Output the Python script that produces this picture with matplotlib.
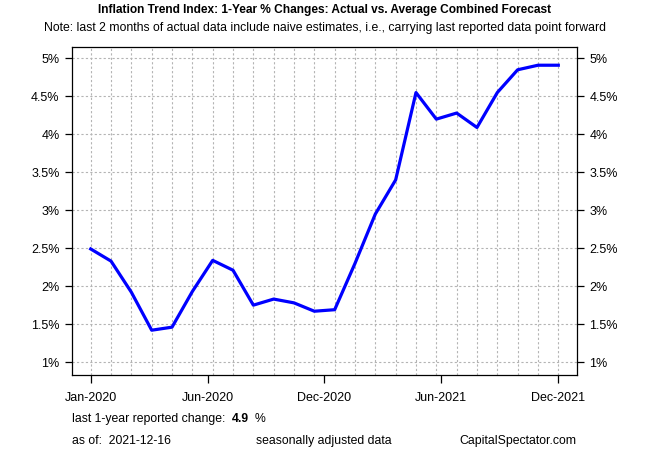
import numpy as np
import matplotlib
matplotlib.use("Agg")
import matplotlib.pyplot as plt

plt.rcParams['font.family'] = ['Liberation Sans', 'DejaVu Sans']

# --- donnees ---
months = ["Jan-2020", "Feb-2020", "Mar-2020", "Apr-2020", "May-2020", "Jun-2020",
          "Jul-2020", "Aug-2020", "Sep-2020", "Oct-2020", "Nov-2020", "Dec-2020",
          "Jan-2021", "Feb-2021", "Mar-2021", "Apr-2021", "May-2021", "Jun-2021",
          "Jul-2021", "Aug-2021", "Sep-2021", "Oct-2021", "Nov-2021", "Dec-2021"]
inflation = [2.49, 2.33, 1.92, 1.42, 1.46, 1.93, 2.34, 2.21, 1.75, 1.83, 1.78, 1.67,
             1.69, 2.30, 2.95, 3.40, 4.55, 4.20, 4.28, 4.09, 4.55, 4.85, 4.91, 4.91]
xtick_labels = ["Jan-2020", "Jun-2020", "Dec-2020", "Jun-2021", "Dec-2021"]
yticks = [1, 1.5, 2, 2.5, 3, 3.5, 4, 4.5, 5]
ytick_labels = ["1%", "1.5%", "2%", "2.5%", "3%", "3.5%", "4%", "4.5%", "5%"]
last_change = "4.9"
as_of = "2021-12-16"

x = np.arange(len(inflation))
n = len(x)

fig = plt.figure(figsize=(6.5, 4.5), dpi=100)
ax = fig.add_axes([72/650, 1 - 375/450, 505/650, 328/450])

# grille pointillee
for xi in x:
    ax.axvline(xi, color="#b4b4b4", lw=0.8, ls=(0, (2, 2)), zorder=0)
for yv in yticks:
    ax.axhline(yv, color="#b4b4b4", lw=0.8, ls=(0, (2, 2)), zorder=0)

ax.plot(x, inflation, color="#0000ff", lw=2.3, solid_joinstyle="round", zorder=3)

ax.set_xlim(-0.04 * (n - 1), (n - 1) * 1.04)
ax.set_ylim(0.83, 5.15)

ax.set_xticks(np.linspace(0, n - 1, len(xtick_labels)))
ax.set_xticklabels(xtick_labels, fontsize=9)
ax.set_yticks(yticks)
ax.set_yticklabels(ytick_labels, fontsize=9)
ax.tick_params(axis="x", length=5.5, width=0.9, pad=7)
ax.tick_params(axis="y", length=5, width=0.9, pad=4, left=True, right=True,
               labelleft=True, labelright=True)
for s in ax.spines.values():
    s.set_linewidth(0.9)

fig.text(0.5, 1 - 10/450, "Inflation Trend Index: 1-Year % Changes: Actual vs. Average Combined Forecast",
         ha="center", va="center", fontsize=8.6, fontweight="bold")
fig.text(0.5, 1 - 28/450, "Note: last 2 months of actual data include naive estimates, i.e., carrying last reported data point forward",
         ha="center", va="center", fontsize=8.8)

fig.text(72/650, 1 - 419/450, "last 1-year reported change:", ha="left", va="center", fontsize=8.8)
fig.text(232/650, 1 - 419/450, last_change, ha="left", va="center", fontsize=8.8, fontweight="bold")
fig.text(255/650, 1 - 419/450, "%", ha="left", va="center", fontsize=8.8)
fig.text(72/650, 1 - 441/450, "as of:  " + as_of, ha="left", va="center", fontsize=8.8)
fig.text(256/650, 1 - 441/450, "seasonally adjusted data", ha="left", va="center", fontsize=8.8)
fig.text(577/650, 1 - 441/450, "CapitalSpectator.com", ha="right", va="center", fontsize=8.8)

fig.savefig("out.png", dpi=100)
